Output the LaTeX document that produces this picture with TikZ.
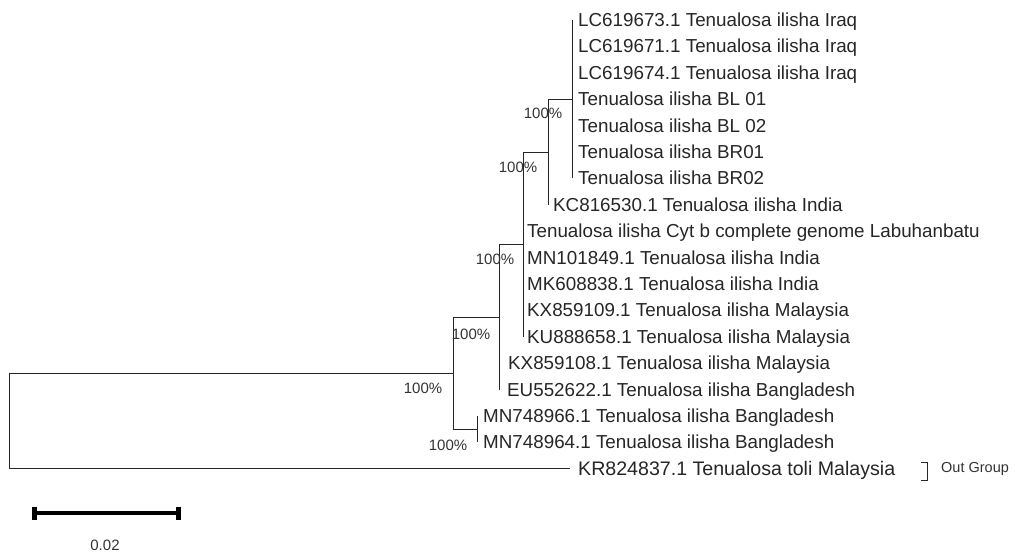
\documentclass[tikz,border=0pt]{standalone}
\usepackage{fontspec}
\setmainfont{Liberation Sans}
\usetikzlibrary{positioning}

\begin{document}
\begin{tikzpicture}[
    x=1pt, y=-1pt,
    branch/.style={draw=black!85, line width=1pt},
    tip/.style={anchor=west, inner sep=0pt, text height=13pt, text depth=0pt,
                font=\fontsize{18.8}{20}\selectfont, text=black!85},
    outtip/.style={tip, font=\fontsize{19.6}{21}\selectfont},
    boot/.style={inner sep=0pt, font=\fontsize{15}{16}\selectfont, text=black!80},
    scalebar/.style={draw=black, line width=4pt},
    node distance=0pt and 6pt
]
\useasboundingbox (0,0) rectangle (1015,555);

% tip points
\coordinate (p1) at (572,20);
\coordinate (p2) at (572,46.4);
\coordinate (p3) at (572,72.8);
\coordinate (p4) at (572,99.2);
\coordinate (p5) at (572,125.6);
\coordinate (p6) at (572,152);
\coordinate (p7) at (572,178.4);
\coordinate (p8) at (548,204.8);
\coordinate (p9) at (523,231.2);
\coordinate (p10) at (523,257.6);
\coordinate (p11) at (523,284);
\coordinate (p12) at (523,310.4);
\coordinate (p13) at (523,336.8);
\coordinate (p14) at (501,363.2);
\coordinate (p15) at (499,389.6);
\coordinate (p16) at (477,416);
\coordinate (p17) at (477,442.4);
\coordinate (p18) at (570,468.8);

% inner nodes
\coordinate (nA) at (572,99.2);
\coordinate (nB) at (548,152);
\coordinate (nC) at (523,244.4);
\coordinate (nD) at (499,317);
\coordinate (nE) at (453,373.1);
\coordinate (nF) at (477,429.2);
\coordinate (root) at (9,421);

% tip labels
\node[tip, right=of p1] (t1) {LC619673.1 Tenualosa ilisha Iraq};
\node[tip, right=of p2] (t2) {LC619671.1 Tenualosa ilisha Iraq};
\node[tip, right=of p3] (t3) {LC619674.1 Tenualosa ilisha Iraq};
\node[tip, right=of p4] (t4) {Tenualosa ilisha BL 01};
\node[tip, right=of p5] (t5) {Tenualosa ilisha BL 02};
\node[tip, right=of p6] (t6) {Tenualosa ilisha BR01};
\node[tip, right=of p7] (t7) {Tenualosa ilisha BR02};
\node[tip, right=5pt of p8] (t8) {KC816530.1 Tenualosa ilisha India};
\node[tip, right=4pt of p9] (t9) {Tenualosa ilisha Cyt b complete genome Labuhanbatu};
\node[tip, right=4pt of p10] (t10) {MN101849.1 Tenualosa ilisha India};
\node[tip, right=4pt of p11] (t11) {MK608838.1 Tenualosa ilisha India};
\node[tip, right=4pt of p12] (t12) {KX859109.1 Tenualosa ilisha Malaysia};
\node[tip, right=4pt of p13] (t13) {KU888658.1 Tenualosa ilisha Malaysia};
\node[tip, right=7pt of p14] (t14) {KX859108.1 Tenualosa ilisha Malaysia};
\node[tip, right=8pt of p15] (t15) {EU552622.1 Tenualosa ilisha Bangladesh};
\node[tip, right=of p16] (t16) {MN748966.1 Tenualosa ilisha Bangladesh};
\node[tip, right=of p17] (t17) {MN748964.1 Tenualosa ilisha Bangladesh};
\node[outtip, right=8pt of p18] (t18) {KR824837.1 Tenualosa toli Malaysia};

% branches
\draw[branch] (p1) -- (p7);
\draw[branch] (nA) -| (p8);
\draw[branch] (nB) -| (p13);
\draw[branch] (nC) -| (p15);
\draw[branch] (nD) -| (nF -| nE) -- (nF);
\draw[branch] (p16) -- (p17);
\draw[branch] (nE) -| (p18 -| root) -- (p18);

% bootstrap values
\node[boot] (bA) at (543,113) {100\%};
\node[boot] (bB) at (518,167) {100\%};
\node[boot] (bC) at (495,259) {100\%};
\node[boot] (bD) at (471,334) {100\%};
\node[boot] (bE) at (423,388) {100\%};
\node[boot] (bF) at (448,445) {100\%};

% out group bracket
\coordinate (brT) at (927,462);
\coordinate (brB) at (927,480);
\draw[branch, line width=0.7pt] ([xshift=-6pt]brT) -- (brT) -- (brB) -- ([xshift=-6pt]brB);
\node[boot, anchor=west, font=\fontsize{14.5}{16}\selectfont] (outgrp) at (941,469) {Out Group};

% scale bar
\coordinate (sbL) at (34,513);
\coordinate (sbR) at (178,513);
\draw[scalebar] (sbL) -- (sbR);
\draw[scalebar, line width=5pt] ([yshift=6.5pt]sbL) -- ([yshift=-6.5pt]sbL);
\draw[scalebar, line width=5pt] ([yshift=6.5pt]sbR) -- ([yshift=-6.5pt]sbR);
\node[boot] (sblabel) at (105,545) {0.02};

\end{tikzpicture}
\end{document}
